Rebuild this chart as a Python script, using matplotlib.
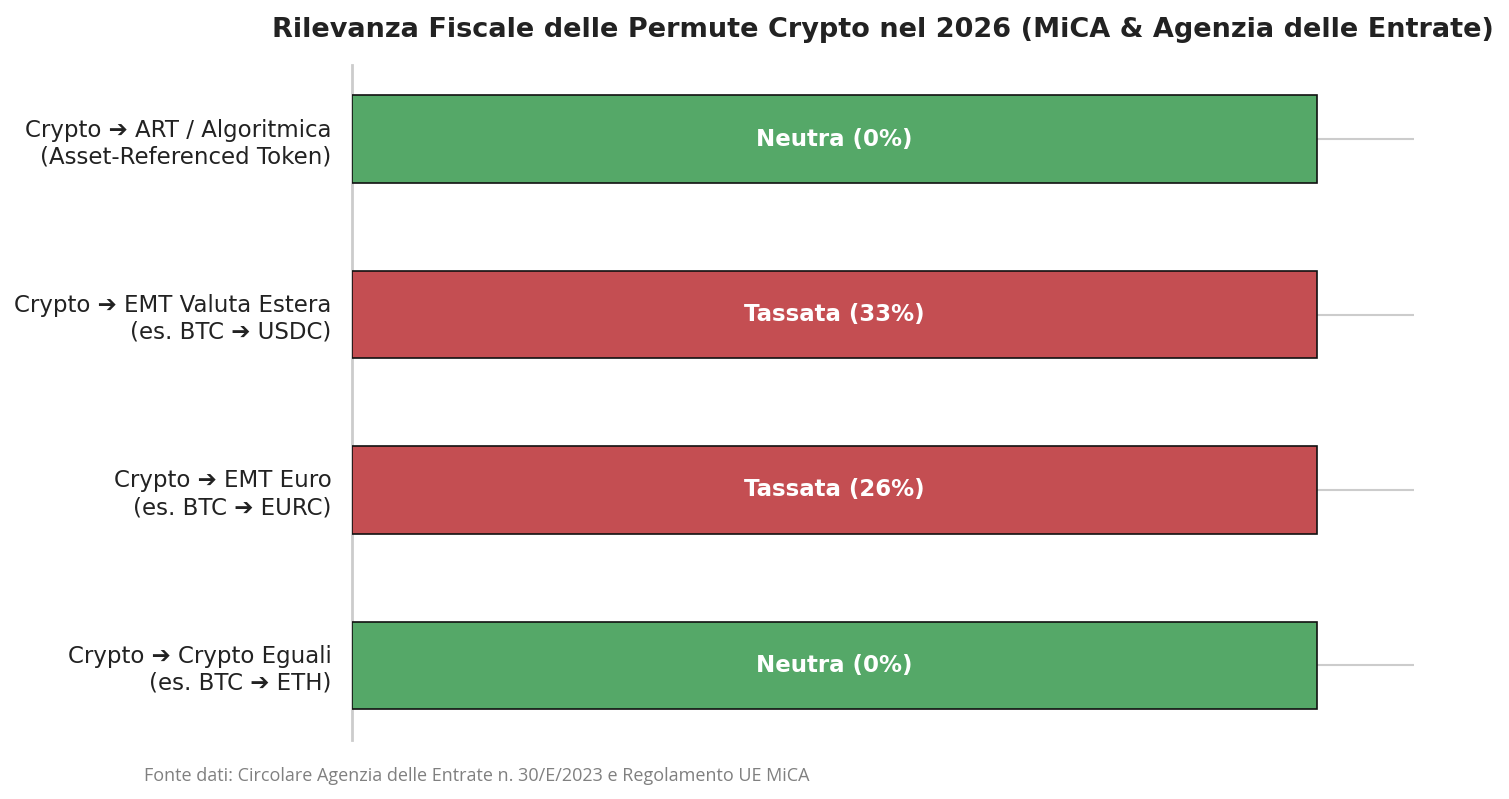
import matplotlib
matplotlib.use("Agg")
import matplotlib.pyplot as plt
import seaborn as sns

# dati (dal basso verso l'alto)
categorie = [
    "Crypto \u2794 Crypto Eguali\n(es. BTC \u2794 ETH)",
    "Crypto \u2794 EMT Euro\n(es. BTC \u2794 EURC)",
    "Crypto \u2794 EMT Valuta Estera\n(es. BTC \u2794 USDC)",
    "Crypto \u2794 ART / Algoritmica\n(Asset-Referenced Token)",
]
valori = [1, 1, 1, 1]
etichette = ["Neutra (0%)", "Tassata (26%)", "Tassata (33%)", "Neutra (0%)"]
colori = ["#55a868", "#c44e52", "#c44e52", "#55a868"]

sns.set_theme(style="whitegrid")
plt.rcParams['font.family'] = ['DejaVu Sans']

fig, ax = plt.subplots(figsize=(15.09, 7.99), dpi=100)
fig.subplots_adjust(left=0.233, right=0.937, top=0.919, bottom=0.074)

bars = ax.barh(categorie, valori, height=0.5, color=colori, edgecolor="#111111", linewidth=1.2, zorder=3)
for b, t in zip(bars, etichette):
    ax.text(b.get_width() / 2, b.get_y() + b.get_height() / 2, t,
            ha="center", va="center", color="white", fontsize=16.5, fontweight="bold", zorder=4)

ax.set_xlim(0, 1.1)
ax.xaxis.grid(False)
ax.yaxis.grid(True, color="#cccccc", linewidth=1.5)
ax.set_xticks([])
ax.tick_params(axis="y", labelsize=16.5, labelcolor="#222222", pad=8.5)
for s in ["top", "right", "bottom"]:
    ax.spines[s].set_visible(False)
ax.spines["left"].set_color("#cccccc")
ax.spines["left"].set_linewidth(2)

ax.set_title("Rilevanza Fiscale delle Permute Crypto nel 2026 (MiCA & Agenzia delle Entrate)",
             fontsize=19.5, fontweight="bold", color="#222222", pad=20)

fig.text(0.0955, 0.022, "Fonte dati: Circolare Agenzia delle Entrate n. 30/E/2023 e Regolamento UE MiCA",
         fontsize=13, color="gray", family="Open Sans")

fig.savefig("out.png", dpi=100)
